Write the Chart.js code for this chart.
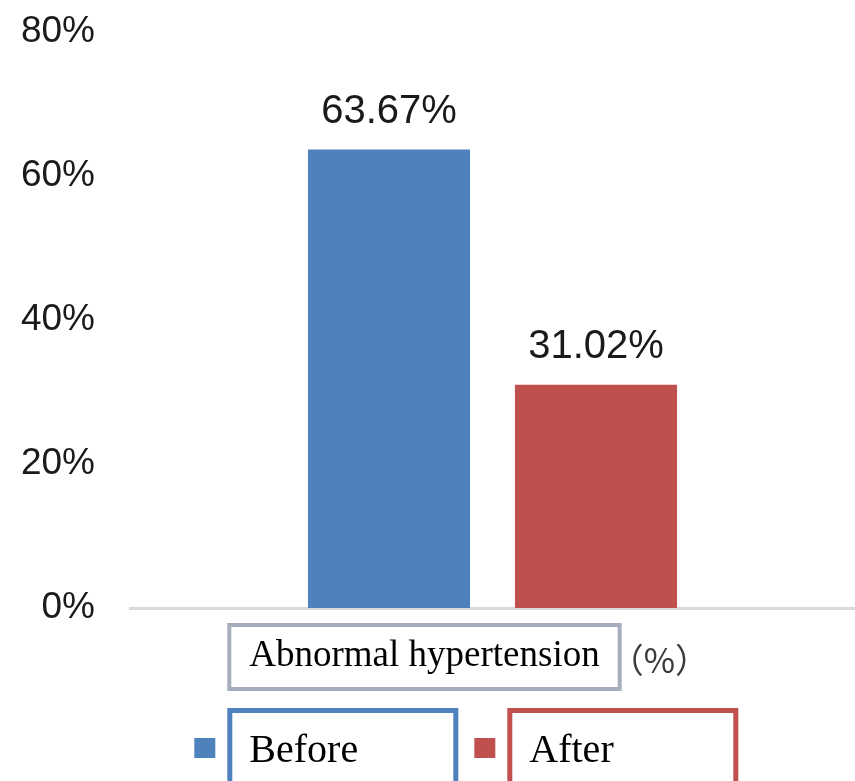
<!DOCTYPE html>
<html>
<head>
<meta charset="utf-8">
<script src="https://cdn.jsdelivr.net/npm/chart.js@4"></script>
<style>
  html, body { margin: 0; padding: 0; background: #fff; }
  #wrap { width: 855px; height: 781px; position: relative; }
</style>
</head>
<body>
<div id="wrap"><canvas id="myChart"></canvas></div>
<script>
const categories = ['Abnormal hypertension'];
const seriesNames = ['Before', 'After'];
const beforeValues = [63.67];
const afterValues = [31.02];
const yTicks = [0, 20, 40, 60, 80];
const unitNote = '（%）';

const colors = ['#4f81bd', '#c0504d'];
const catFont = '37px "Liberation Serif", "Times New Roman", serif';

// value labels above each bar
const valueLabels = {
    id: 'valueLabels',
    afterDatasetsDraw(chart) {
        const ctx = chart.ctx;
        ctx.save();
        ctx.font = '40px "Liberation Sans", Arial, sans-serif';
        ctx.fillStyle = '#1a1a1a';
        ctx.textAlign = 'center';
        ctx.textBaseline = 'alphabetic';
        chart.data.datasets.forEach((ds, i) => {
            chart.getDatasetMeta(i).data.forEach((bar, j) => {
                ctx.fillText(ds.data[j].toFixed(2) + '%', bar.x, bar.y - 27);
            });
        });
        ctx.restore();
    }
};

// framed category label, unit note and boxed legend
const frames = {
    id: 'frames',
    afterDraw(chart) {
        const ctx = chart.ctx;
        const xs = chart.scales.x;
        const area = chart.chartArea;
        const cx = xs.getPixelForTick(0) + xs.options.ticks.labelOffset;

        ctx.save();
        ctx.font = catFont;
        const tw = ctx.measureText(categories[0]).width;
        const boxL = cx - tw / 2 - 22;
        const boxW = tw + 44;

        ctx.strokeStyle = '#a6adbd';
        ctx.lineWidth = 4;
        ctx.strokeRect(boxL + 2, area.bottom + 17, boxW - 4, 64);

        ctx.font = '34px "Noto Sans CJK SC", sans-serif';
        ctx.fillStyle = '#3a3a3a';
        ctx.textAlign = 'left';
        ctx.textBaseline = 'middle';
        ctx.fillText(unitNote, boxL + boxW - 12, area.bottom + 52);

        // legend
        const rowY = area.bottom + 140;
        chart.data.datasets.forEach((ds, i) => {
            const left = boxL + i * 280;
            ctx.fillStyle = ds.backgroundColor;
            ctx.fillRect(left - 33, rowY - 10, 21, 20);
            ctx.strokeStyle = ds.backgroundColor;
            ctx.lineWidth = 5;
            ctx.strokeRect(left + 2.5, area.bottom + 102.5, 226, 120);
            ctx.fillStyle = '#000';
            ctx.font = '40px "Liberation Serif", "Times New Roman", serif';
            ctx.textBaseline = 'alphabetic';
            ctx.fillText(ds.label, left + 22, area.bottom + 154);
        });
        ctx.restore();
    }
};

new Chart(document.getElementById('myChart'), {
    type: 'bar',
    data: {
        labels: categories,
        datasets: [
            { label: seriesNames[0], data: beforeValues, backgroundColor: colors[0] },
            { label: seriesNames[1], data: afterValues, backgroundColor: colors[1] }
        ]
    },
    options: {
        responsive: true,
        maintainAspectRatio: false,
        animation: false,
        categoryPercentage: 0.571,
        barPercentage: 0.783,
        layout: { padding: { top: 32, right: 0, bottom: 0, left: 0 } },
        plugins: {
            legend: { display: false },
            tooltip: { enabled: false }
        },
        scales: {
            x: {
                grid: { display: false, drawTicks: false },
                border: { display: true, color: '#d9d9d9', width: 3 },
                ticks: {
                    font: { family: '"Liberation Serif", "Times New Roman", serif', size: 37 },
                    color: '#000',
                    padding: 26,
                    labelOffset: -68,
                    maxRotation: 0
                },
                afterFit(scale) { scale.height = 173; }
            },
            y: {
                min: 0,
                max: 80,
                afterBuildTicks(scale) { scale.ticks = yTicks.map(v => ({ value: v })); },
                grid: { display: false, drawTicks: false },
                border: { display: false },
                ticks: {
                    font: { family: '"Liberation Sans", Arial, sans-serif', size: 37 },
                    color: '#1a1a1a',
                    padding: 35,
                    callback: v => v + '%'
                },
                afterFit(scale) {
                    scale.width = 130;
                    scale.paddingTop = 0;
                    scale.paddingBottom = 0;
                }
            }
        }
    },
    plugins: [valueLabels, frames]
});
</script>
</body>
</html>
